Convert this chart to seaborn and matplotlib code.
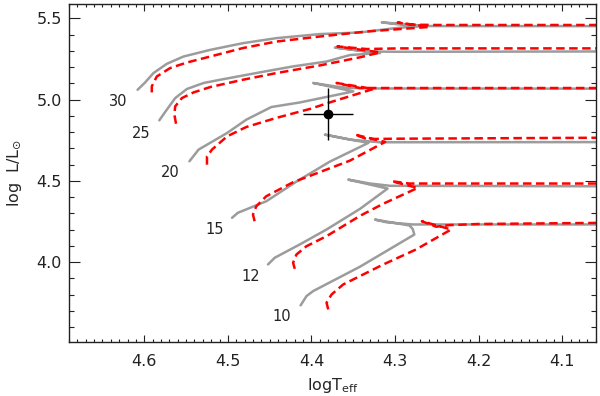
import pandas as pd
import seaborn as sns
import matplotlib
matplotlib.use('Agg')
import matplotlib.pyplot as plt
from matplotlib.ticker import MultipleLocator

# tracks: (logTeff, logL), solid grey = reference models, red dashed = new models
masses = [30, 25, 20, 15, 12, 10]

grey_30 = [(4.608, 5.061), (4.599, 5.106), (4.589, 5.164), (4.573, 5.221), (4.553, 5.266), (4.521, 5.307),
           (4.482, 5.348), (4.442, 5.379), (4.390, 5.404), (4.342, 5.414), (4.299, 5.441), (4.265, 5.455),
           (4.316, 5.476), (4.296, 5.464), (4.275, 5.454), (4.235, 5.453), (4.05, 5.453)]
red_30 = [(4.591, 5.045), (4.591, 5.082), (4.585, 5.143), (4.569, 5.195), (4.549, 5.229), (4.521, 5.266),
          (4.482, 5.318), (4.442, 5.358), (4.390, 5.389), (4.334, 5.420), (4.259, 5.448), (4.297, 5.475),
          (4.280, 5.462), (4.250, 5.460), (4.05, 5.460)]

grey_25 = [(4.582, 4.873), (4.573, 4.939), (4.563, 5.010), (4.549, 5.066), (4.529, 5.103), (4.509, 5.123),
           (4.462, 5.168), (4.422, 5.205), (4.382, 5.235), (4.354, 5.275), (4.318, 5.287), (4.372, 5.321),
           (4.334, 5.297), (4.295, 5.295), (4.05, 5.297)]
red_25 = [(4.562, 4.852), (4.564, 4.908), (4.563, 4.959), (4.555, 5.010), (4.541, 5.045), (4.521, 5.078),
          (4.482, 5.123), (4.442, 5.164), (4.390, 5.211), (4.342, 5.261), (4.318, 5.291), (4.369, 5.328),
          (4.334, 5.312), (4.295, 5.316), (4.05, 5.316)]

grey_20 = [(4.546, 4.621), (4.535, 4.693), (4.501, 4.795), (4.478, 4.877), (4.448, 4.955), (4.414, 4.983),
           (4.350, 5.051), (4.398, 5.103), (4.372, 5.082), (4.354, 5.072), (4.318, 5.069), (4.05, 5.068)]
red_20 = [(4.525, 4.600), (4.525, 4.651), (4.519, 4.693), (4.501, 4.774), (4.478, 4.832), (4.442, 4.888),
          (4.402, 4.943), (4.374, 4.990), (4.326, 5.066), (4.370, 5.103), (4.342, 5.072), (4.295, 5.072),
          (4.05, 5.072)]

grey_15 = [(4.495, 4.273), (4.488, 4.304), (4.454, 4.375), (4.418, 4.496), (4.378, 4.619), (4.332, 4.734),
           (4.384, 4.785), (4.354, 4.754), (4.318, 4.738), (4.05, 4.739)]
red_15 = [(4.468, 4.252), (4.470, 4.293), (4.466, 4.344), (4.454, 4.406), (4.422, 4.492), (4.382, 4.570),
          (4.354, 4.625), (4.312, 4.740), (4.348, 4.785), (4.334, 4.758), (4.295, 4.760), (4.05, 4.766)]

grey_12 = [(4.452, 3.986), (4.444, 4.027), (4.414, 4.109), (4.382, 4.201), (4.342, 4.328), (4.309, 4.453),
           (4.356, 4.508), (4.330, 4.484), (4.306, 4.470), (4.05, 4.467)]
red_12 = [(4.420, 3.959), (4.422, 3.996), (4.418, 4.047), (4.406, 4.098), (4.382, 4.160), (4.342, 4.285),
          (4.314, 4.360), (4.273, 4.457), (4.304, 4.498), (4.283, 4.484), (4.247, 4.484), (4.05, 4.484)]

grey_10 = [(4.413, 3.734), (4.406, 3.791), (4.398, 3.822), (4.342, 3.972), (4.277, 4.170), (4.279, 4.205),
           (4.283, 4.226), (4.324, 4.262), (4.310, 4.245), (4.279, 4.232), (4.05, 4.232)]
red_10 = [(4.380, 3.709), (4.382, 3.750), (4.376, 3.801), (4.362, 3.863), (4.314, 3.986), (4.275, 4.078),
          (4.233, 4.201), (4.268, 4.252), (4.251, 4.218), (4.235, 4.228), (4.200, 4.235), (4.05, 4.242)]

# mass labels next to the ZAMS
label_T = [4.631, 4.604, 4.569, 4.516, 4.473, 4.435]
label_L = [4.990, 4.795, 4.549, 4.201, 3.910, 3.668]

# observed star
star_T, star_L = 4.380, 4.912
star_Terr, star_Lerr = 0.03, 0.158

grey_tracks = [grey_30, grey_25, grey_20, grey_15, grey_12, grey_10]
red_tracks = [red_30, red_25, red_20, red_15, red_12, red_10]

rows = []
for m, g, r in zip(masses, grey_tracks, red_tracks):
    for model, trk in (('std', g), ('rot', r)):
        for i, (t, l) in enumerate(trk):
            rows.append({'track': f'{model}{m}', 'model': model, 'i': i, 'logT': t, 'logL': l})
df = pd.DataFrame(rows)

sns.set_style('ticks')
plt.rcParams['font.family'] = ['DejaVu Sans']
plt.rcParams['mathtext.fontset'] = 'dejavusans'

fig = plt.figure(figsize=(6, 3.96), dpi=100)
ax = fig.add_axes([0.115, 0.137, 0.878, 0.852])

sns.lineplot(data=df, x='logT', y='logL', hue='model', style='model', units='track',
             estimator=None, sort=False, hue_order=['std', 'rot'], style_order=['std', 'rot'],
             palette={'std': '#9c9c9c', 'rot': '#ff0000'},
             dashes={'std': '', 'rot': (3.4, 1.8)}, linewidth=1.8, legend=False, ax=ax)

ax.errorbar(star_T, star_L, xerr=star_Terr, yerr=star_Lerr, fmt='o', color='black',
            ms=6, elinewidth=1.0, capsize=0, zorder=5)

for m, t, l in zip(masses, label_T, label_L):
    ax.text(t, l, str(m), ha='center', va='center', fontsize=10.5, color='#222222')

ax.set_xlim(4.69, 4.06)
ax.set_ylim(3.51, 5.587)
ax.xaxis.set_major_locator(MultipleLocator(0.1))
ax.xaxis.set_minor_locator(MultipleLocator(0.01))
ax.yaxis.set_major_locator(MultipleLocator(0.5))
ax.yaxis.set_minor_locator(MultipleLocator(0.1))
ax.xaxis.set_major_formatter(plt.FormatStrFormatter('%.1f'))
ax.yaxis.set_major_formatter(plt.FormatStrFormatter('%.1f'))

ax.tick_params(axis='both', which='both', direction='in', top=True, right=True, width=0.8, colors='#222222')
ax.tick_params(axis='x', which='major', length=5, pad=9, labelsize=11.5)
ax.tick_params(axis='x', which='minor', length=2.5)
ax.tick_params(axis='y', which='major', length=8, pad=5, labelsize=11.5)
ax.tick_params(axis='y', which='minor', length=3.6)
for s in ax.spines.values():
    s.set_linewidth(1.0)
    s.set_color('#222222')

ax.set_xlabel(r'logT$_{\rm eff}$', fontsize=11.5, labelpad=5)
ax.set_ylabel(r'log  L/L$_{\odot}$', fontsize=11.5, labelpad=9)

fig.savefig('out.png', dpi=100)
